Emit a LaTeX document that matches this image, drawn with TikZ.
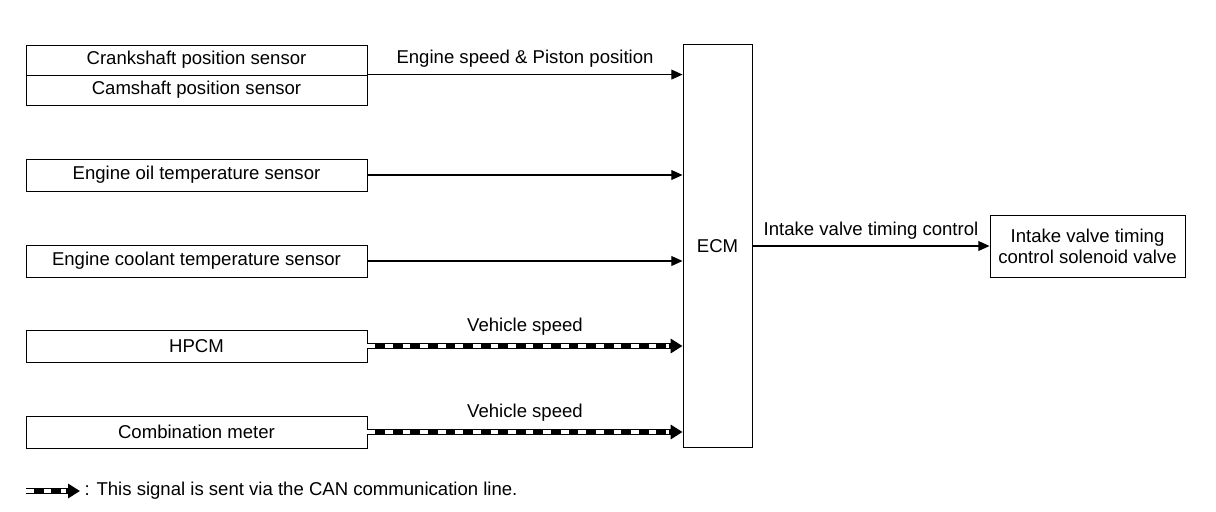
\documentclass[tikz,border=0pt]{standalone}
\usepackage{fontspec}
\setmainfont{Liberation Sans}
\usetikzlibrary{positioning,arrows.meta}

\begin{document}
\begin{tikzpicture}[x=0.025cm,y=-0.025cm,
    font=\fontsize{13.2}{15}\selectfont,
    box/.style={draw,line width=0.6pt,inner sep=0pt,minimum width=8.525cm,minimum height=0.8cm},
    sig/.style={line width=0.9pt,-{Triangle[length=8pt,width=7pt]}},
    can/.style={line width=4.6pt,-{Triangle[length=8.5pt,width=10pt]},
      postaction={draw=white,line width=2.4pt,-,shorten >=10pt,dash pattern=on 5.5pt off 7pt}}]
  \useasboundingbox (0,0) rectangle (1216,512);
  % sensors
  \node[box,minimum height=0.75cm] (crank) at (196.5,60) {Crankshaft position sensor};
  \node[box,minimum height=0.75cm] (cam) at (196.5,90) {Camshaft position sensor};
  \node[box] (oil) at (196.5,175) {Engine oil temperature sensor};
  \node[box] (ect) at (196.5,261) {Engine coolant temperature sensor};
  \node[box] (hpcm) at (196.5,346) {HPCM};
  \node[box] (meter) at (196.5,432) {Combination meter};
  % ECM and actuator
  \node[draw,line width=0.6pt,minimum width=1.725cm,minimum height=10.075cm,inner sep=0pt] (ecm) at (717.5,246) {ECM};
  \node[draw,line width=0.6pt,minimum width=4.875cm,minimum height=1.55cm,align=center,inner sep=0pt] (valve) at (1087.5,246) {Intake valve timing\\control solenoid valve};
  % signals
  \draw[sig] (cam.north east) -- node[above=1pt] {Engine speed \& Piston position} (cam.north east -| ecm.west);
  \draw[sig] (oil) -- (oil -| ecm.west);
  \draw[sig] (ect) -- (ect -| ecm.west);
  \draw[can] (hpcm) -- node[above=2pt] {Vehicle speed} (hpcm -| ecm.west);
  \draw[can] (meter) -- node[above=2pt] {Vehicle speed} (meter -| ecm.west);
  \draw[sig] (ecm.east |- valve) -- node[above=1pt] {Intake valve timing control} (valve.west);
  % legend
  \coordinate (lgs) at (26,491);
  \coordinate (lge) at (80,491);
  \draw[can] (lgs) -- (lge);
  \node[right=3pt of lge,inner sep=0pt] (lgtext) {: This signal is sent via the CAN communication line.};
\end{tikzpicture}
\end{document}
